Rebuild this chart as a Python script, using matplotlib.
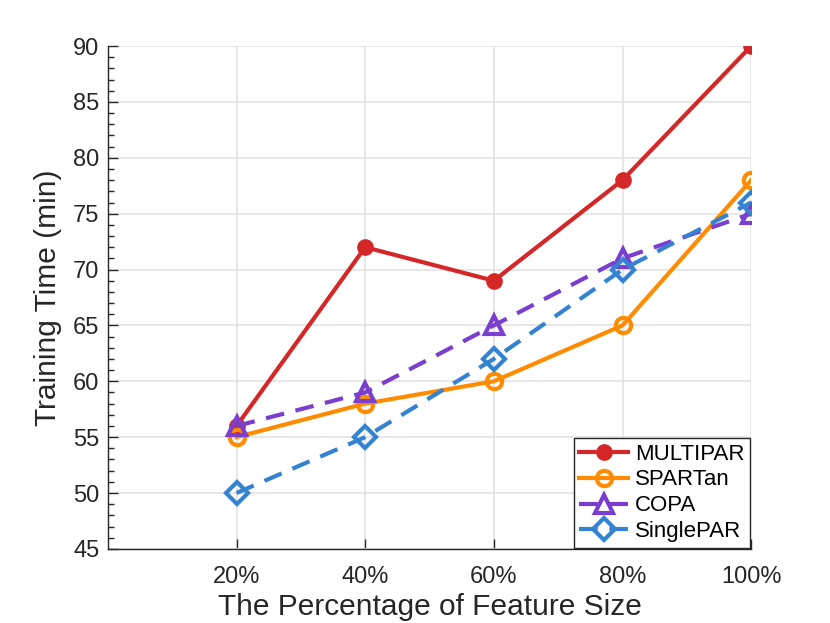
import matplotlib
matplotlib.use("Agg")
import matplotlib.pyplot as plt
from matplotlib.ticker import MultipleLocator

plt.rcParams['font.family'] = ['Liberation Sans', 'DejaVu Sans']

categories = ['20%', '40%', '60%', '80%', '100%']
multipar = [56, 72, 69, 78, 90]
spartan = [55, 58, 60, 65, 78]
copa = [56, 59, 65, 71, 75]
singlepar = [50, 55, 62, 70, 76]

fig = plt.figure(figsize=(8.3, 6.23), dpi=100)
ax = fig.add_axes([0.130, 0.119, 0.775, 0.807])

x = list(range(1, len(categories) + 1))
lw = 3.0
ax.plot(x, multipar, color='#D62728', lw=lw, marker='o', ms=10,
        mfc='#D62728', mec='#D62728', mew=2, label='MULTIPAR', zorder=3)
ax.plot(x, spartan, color='#FF8C00', lw=lw, marker='o', ms=11,
        mfc='none', mec='#FF8C00', mew=3, label='SPARTan', zorder=4)
l3, = ax.plot(x, copa, color='#7B3FCF', lw=lw, marker='^', ms=13,
        mfc='none', mec='#7B3FCF', mew=3, label='COPA', zorder=5)
l4, = ax.plot(x, singlepar, color='#3383D1', lw=lw, marker='D', ms=11,
        mfc='none', mec='#3383D1', mew=3, label='SinglePAR', zorder=6)
l3.set_dashes([4.5, 2.8])
l4.set_dashes([4.5, 2.8])

ax.set_xlim(0, 5)
ax.set_ylim(45, 90)
ax.set_xticks(x)
ax.set_xticklabels(categories)
ax.yaxis.set_major_locator(MultipleLocator(5))
ax.yaxis.set_minor_locator(MultipleLocator(1))
ax.tick_params(axis='both', which='both', direction='in', labelsize=17,
               colors='#262626', width=1.0)
ax.tick_params(axis='both', which='major', length=7, pad=6)
ax.tick_params(axis='x', which='major', pad=12)
ax.tick_params(axis='y', which='minor', length=4)
ax.tick_params(axis='x', which='minor', bottom=False)

ax.grid(True, which='major', color='#E3E3E3', lw=1.2)
ax.set_axisbelow(True)
for s in ['top', 'right']:
    ax.spines[s].set_visible(False)
for s in ['left', 'bottom']:
    ax.spines[s].set_color('#262626')
    ax.spines[s].set_linewidth(1.0)

ax.set_xlabel('The Percentage of Feature Size', fontsize=21.5, color='#262626', labelpad=4)
ax.set_ylabel('Training Time (min)', fontsize=21.5, color='#262626', labelpad=8)

leg = ax.legend(loc='lower right', fontsize=16, frameon=True, fancybox=False,
                edgecolor='#262626', framealpha=1, handlelength=2.2,
                handletextpad=0.3, borderpad=0.25, labelspacing=0.22,
                borderaxespad=0.05)
leg.get_frame().set_linewidth(1.0)

fig.savefig('out.png', dpi=100)
